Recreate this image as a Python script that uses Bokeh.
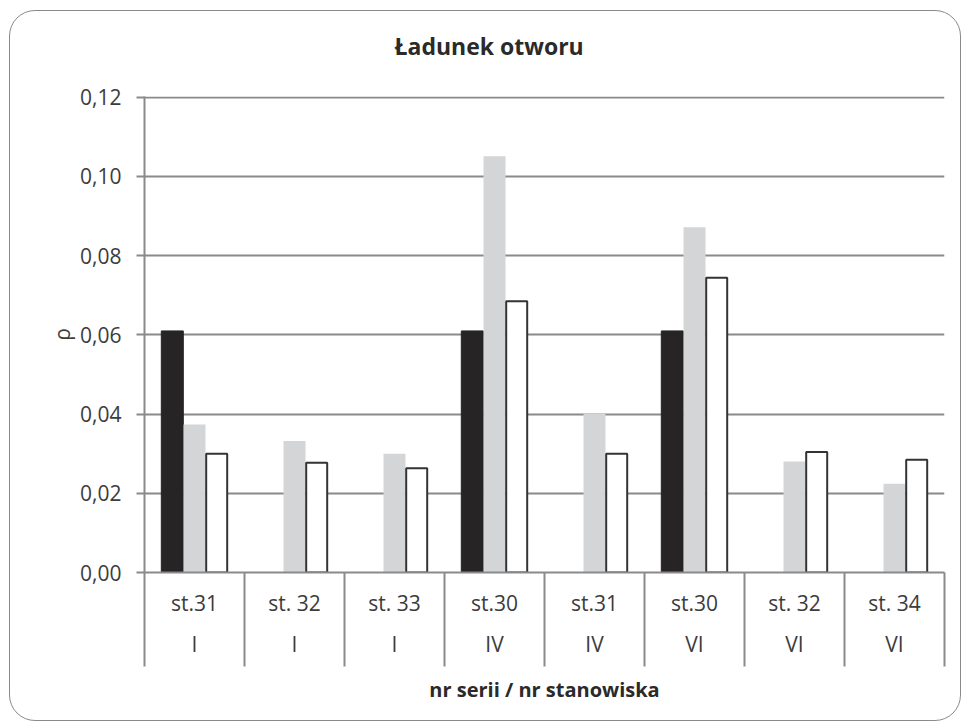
from bokeh.plotting import figure
from bokeh.models import ColumnDataSource, FixedTicker, LinearAxis, Range1d, Title
from bokeh.transform import dodge
from bokeh.embed import file_html
from bokeh.resources import INLINE

# ---- data ----
stations = ["st.31", "st. 32", "st. 33", "st.30", "st.31", "st.30", "st. 32", "st. 34"]
series = ["I", "I", "I", "IV", "IV", "VI", "VI", "VI"]
black_vals = [0.061, None, None, 0.061, None, 0.061, None, None]
gray_vals = [0.0374, 0.0332, 0.0300, 0.1051, 0.0401, 0.0872, 0.0280, 0.0224]
white_vals = [0.0300, 0.0277, 0.0263, 0.0685, 0.0300, 0.0744, 0.0304, 0.0285]
y_ticks = [0.0, 0.02, 0.04, 0.06, 0.08, 0.10, 0.12]
y_tick_labels = ["0,00", "0,02", "0,04", "0,06", "0,08", "0,10", "0,12"]
title_text = "Ładunek otworu"
x_title = "nr serii / nr stanowiska"
y_title = "ρ"

FONT = "Open Sans"
GRID = "#8a8a8a"
TXT = "#3c3c3c"

n = len(stations)
pos = list(range(1, n + 1))
nan = float("nan")
src = ColumnDataSource(dict(
    x=pos,
    black=[nan if v is None else v for v in black_vals],
    gray=gray_vals,
    white=white_vals,
))

W, H = 952, 711
p = figure(width=W, height=H, output_backend="svg", toolbar_location=None,
           x_range=Range1d(0.5, n + 0.5), y_range=Range1d(0, 0.1202),
           min_border_left=134, min_border_right=18, min_border_top=85,
           min_border_bottom=150)
p.margin = (10, 0, 0, 9)
p.styles = {"border": "1.5px solid #8a8a8a", "border-radius": "26px"}
p.border_fill_alpha = 0
p.background_fill_color = None
p.outline_line_color = None

p.title.text = title_text
p.title.align = "left"
p.title.offset = 250
p.title.text_font = FONT
p.title.text_font_size = "23px"
p.title.text_font_style = "bold"
p.title.text_color = "#2a2a2a"
p.title.standoff = 0
# blank spacer between the title and the plot frame
spacer = Title(text=" ", text_font_size="10px", standoff=22)
p.add_layout(spacer, "above")

bw = 0.22
p.vbar(x=dodge("x", -0.222), top="black", width=bw, source=src,
       fill_color="#262425", line_color="#262425", line_width=1)
p.vbar(x=dodge("x", 0.0), top="gray", width=bw, source=src,
       fill_color="#d4d5d7", line_color=None)
p.vbar(x=dodge("x", 0.222), top="white", width=bw - 0.01, source=src,
       fill_color="white", line_color="#333333", line_width=2)

# y axis
ya = p.yaxis[0]
ya.ticker = FixedTicker(ticks=y_ticks)
ya.major_label_overrides = {t: l for t, l in zip(y_ticks, y_tick_labels)}
ya.minor_tick_line_color = None
ya.major_tick_out = 8
ya.major_tick_in = 0
ya.major_tick_line_color = GRID
ya.major_tick_line_width = 2
ya.axis_line_color = GRID
ya.axis_line_width = 2
ya.major_label_standoff = 15
ya.major_label_text_font = FONT
ya.major_label_text_font_size = "21px"
ya.major_label_text_color = TXT
ya.axis_label = y_title
ya.axis_label_text_font = FONT
ya.axis_label_text_font_size = "21px"
ya.axis_label_text_font_style = "normal"
ya.axis_label_text_color = TXT
ya.axis_label_standoff = 1

p.xgrid.visible = False
p.ygrid.ticker = FixedTicker(ticks=y_ticks)
p.ygrid.grid_line_color = GRID
p.ygrid.grid_line_width = 2

# x axis row 1: stations, with separators as minor ticks
boundaries = [i + 0.5 for i in range(n + 1)]
xa = p.xaxis[0]
xa.ticker = FixedTicker(ticks=pos, minor_ticks=boundaries)
xa.major_label_overrides = {i: s for i, s in zip(pos, stations)}
xa.major_tick_line_color = None
xa.major_tick_out = 0
xa.major_tick_in = 0
xa.minor_tick_out = 94
xa.minor_tick_in = 0
xa.minor_tick_line_color = GRID
xa.minor_tick_line_width = 2
xa.axis_line_color = GRID
xa.axis_line_width = 2
xa.major_label_standoff = -78
xa.major_label_text_font = FONT
xa.major_label_text_font_size = "21px"
xa.major_label_text_color = TXT

# x axis row 2: series
xa2 = LinearAxis(ticker=FixedTicker(ticks=pos, minor_ticks=[]))
xa2.major_label_overrides = {i: s for i, s in zip(pos, series)}
xa2.major_tick_line_color = None
xa2.minor_tick_line_color = None
xa2.major_tick_out = 0
xa2.major_tick_in = 0
xa2.axis_line_color = None
xa2.major_label_standoff = 10
xa2.major_label_text_font = FONT
xa2.major_label_text_font_size = "21px"
xa2.major_label_text_color = TXT
xa2.axis_label = x_title
xa2.axis_label_standoff = 15
xa2.axis_label_text_font = FONT
xa2.axis_label_text_font_size = "20px"
xa2.axis_label_text_font_style = "bold"
xa2.axis_label_text_color = "#2a2a2a"
p.add_layout(xa2, "below")

open("out.html", "w").write(file_html(p, INLINE))
